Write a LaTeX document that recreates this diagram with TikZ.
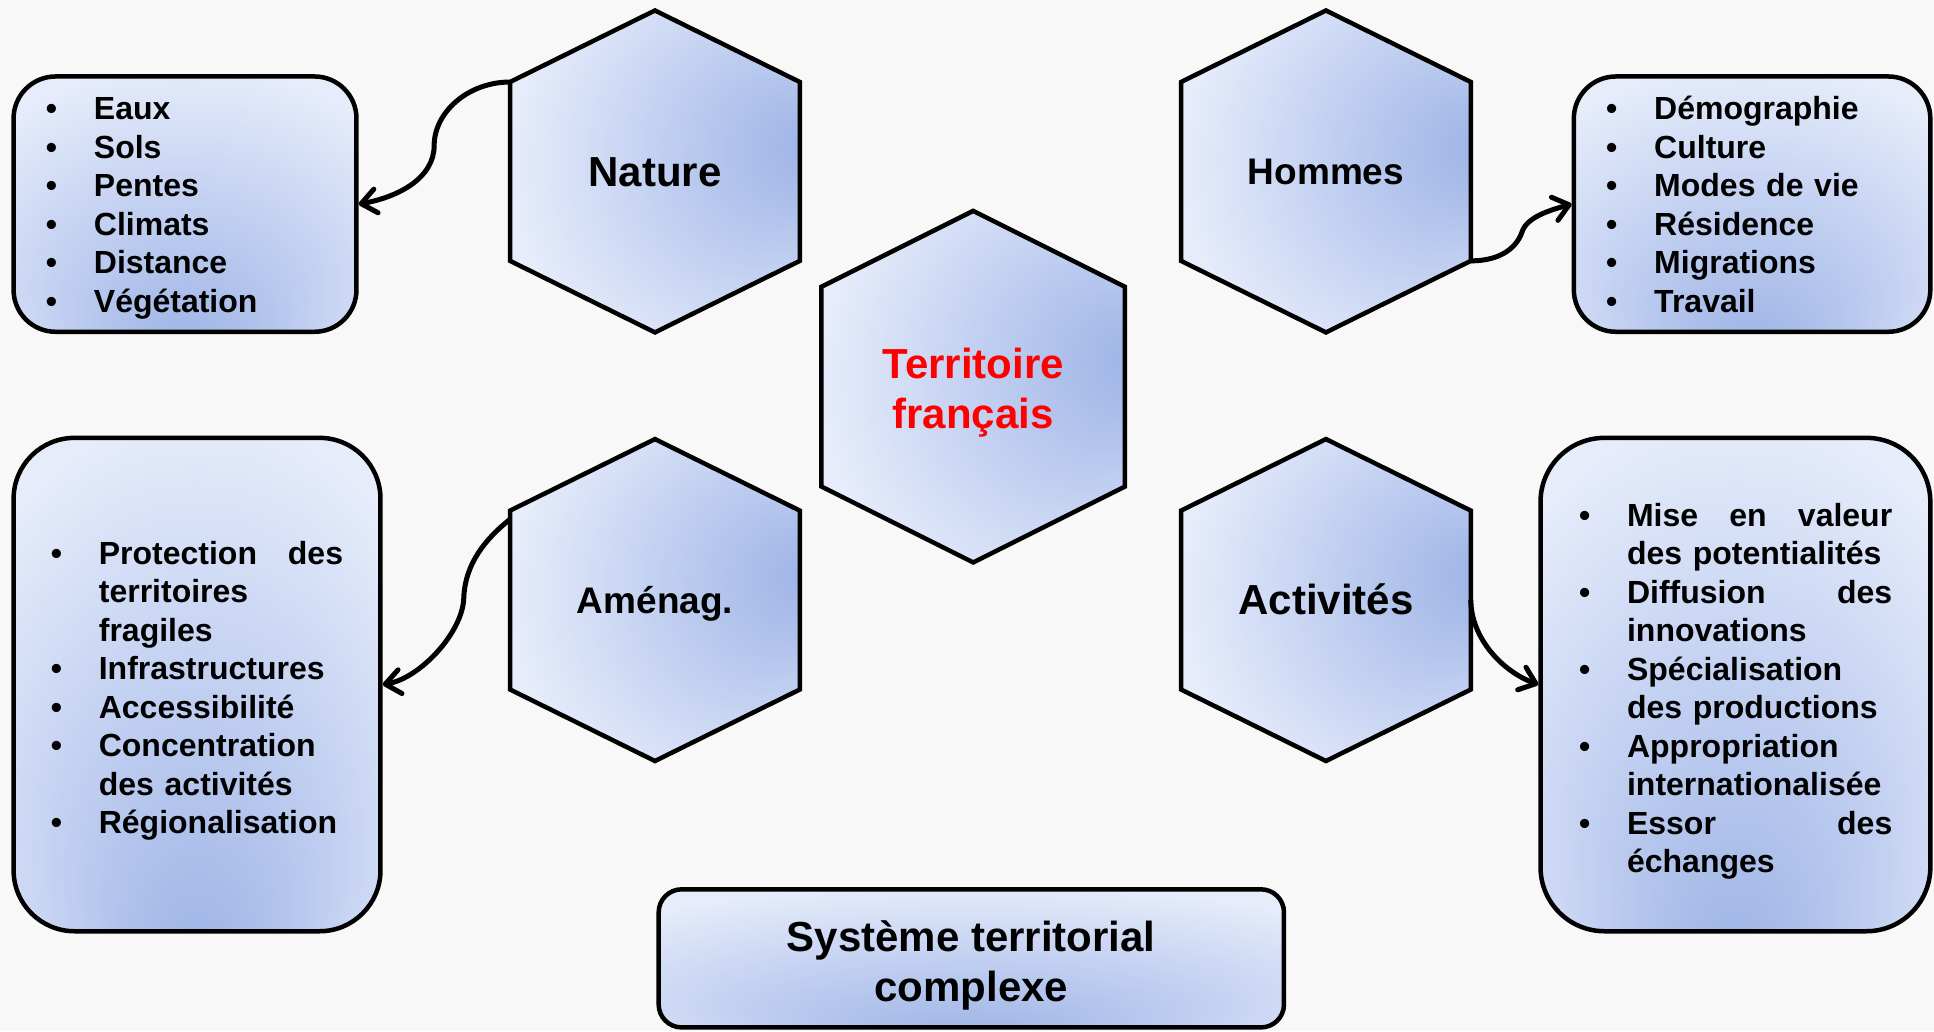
\documentclass[tikz,border=0pt]{standalone}
\usepackage{fontspec}
\setmainfont{Liberation Sans}
\usetikzlibrary{arrows.meta}

\definecolor{pagebg}{HTML}{F8F8F8}
\definecolor{blueLight}{HTML}{E6ECFA}
\definecolor{blueMid}{HTML}{C2D0F1}
\definecolor{blueDark}{HTML}{9CB3E6}
\definecolor{titleRed}{HTML}{FF0000}

% light-to-dark fills: hexagons darken towards the right, boxes towards the bottom centre
\pgfdeclareradialshading{hexshade}{\pgfpoint{28bp}{4bp}}{%
  color(0bp)=(blueDark); color(18bp)=(blueMid); color(34bp)=(blueLight); color(50bp)=(blueLight)}
\pgfdeclareradialshading{boxshade}{\pgfpoint{0bp}{-30bp}}{%
  color(0bp)=(blueDark); color(19bp)=(blueMid); color(36bp)=(blueLight); color(50bp)=(blueLight)}

% bullet hanging to the left of an item
\newcommand\bul{\strut\llap{\makebox[48pt][l]{•}}}

\tikzset{
  outline/.style={draw=black, line width=4.5pt},
  hexa/.style={outline, shade, shading=hexshade, line join=miter},
  infobox/.style={outline, shade, shading=boxshade, rounded corners=#1, inner sep=0pt},
  link/.style={line width=5pt, -{Straight Barb[length=15pt,width=24pt,round]}},
  bigtext/.style={font=\fontsize{42}{50}\selectfont\bfseries, inner sep=0pt},
  midtext/.style={font=\fontsize{37}{44}\selectfont\bfseries, inner sep=0pt},
  listtext/.style={font=\fontsize{32}{38.5}\selectfont\bfseries, align=left, inner sep=0pt, anchor=north west},
}

\begin{document}
\begin{tikzpicture}[x=1.23342pt, y=-1.23342pt]
  % page
  \path[fill=pagebg] (0,0) rectangle (1568,836);
  \useasboundingbox (0,0) rectangle (1568,836);

  % hexagons
  \path[hexa] (413.5,66.5) -- (531,8.5) -- (648.5,66.5) -- (648.5,211.5) -- (531,269.5) -- (413.5,211.5) -- cycle;
  \path[hexa] (957.5,66.5) -- (1075,8.5) -- (1192.5,66.5) -- (1192.5,211.5) -- (1075,269.5) -- (957.5,211.5) -- cycle;
  \path[hexa] (666,232.5) -- (789,171) -- (912,232.5) -- (912,394.5) -- (789,456) -- (666,394.5) -- cycle;
  \path[hexa] (413.5,414) -- (531,356) -- (648.5,414) -- (648.5,559) -- (531,617) -- (413.5,559) -- cycle;
  \path[hexa] (957.5,414) -- (1075,356) -- (1192.5,414) -- (1192.5,559) -- (1075,617) -- (957.5,559) -- cycle;

  % hexagon labels
  \node[bigtext, anchor=base] (natlbl) at (531,151.4) {Nature};
  \node[midtext, anchor=base] (homlbl) at (1075,149.5) {Hommes};
  \node[midtext, anchor=base] (amelbl) at (531,497.5) {Aménag.};
  \node[bigtext, anchor=base] (actlbl) at (1075,498.6) {Activités};
  \node[bigtext, align=center, anchor=north, text=titleRed] (terrlbl) at (789,278.2) {\strut Territoire\\français};

  % connector start points on the hexagons
  \coordinate (natV) at (413.5,66.5);
  \coordinate (homV) at (1192.5,211.5);
  \coordinate (ameP) at (413.5,421);
  \coordinate (actP) at (1192.5,486.5);

  % detail boxes
  \node[infobox=42pt, minimum width=342.9pt, minimum height=255.3pt] (natbox) at (150,165.5) {};
  \node[infobox=42pt, minimum width=356.5pt, minimum height=255.3pt] (hombox) at (1420.5,165.5) {};
  \node[infobox=61pt, minimum width=366.9pt, minimum height=493.4pt] (amebox) at (159.75,555) {};
  \node[infobox=64pt, minimum width=389.8pt, minimum height=493.4pt] (actbox) at (1407,555) {};
  \node[infobox=23pt, minimum width=625.3pt, minimum height=138.1pt] (sysbox) at (787.5,777) {};

  % box contents
  \node[listtext, text width=200pt] (natlist) at (76,75.15)
    {\bul Eaux\\\bul Sols\\\bul Pentes\\\bul Climats\\\bul Distance\\\bul Végétation};
  \node[listtext, text width=230pt] (homlist) at (1341,75.15)
    {\bul Démographie\\\bul Culture\\\bul Modes de vie\\\bul Résidence\\\bul Migrations\\\bul Travail};
  \node[listtext, text width=244.2pt] (amelist) at (80,435.45)
    {\bul Protection\hfill des\\territoires\\fragiles\\\bul Infrastructures\\\bul Accessibilité\\%
     \bul Concentration\\des activités\\\bul Régionalisation};
  \node[listtext, text width=265.2pt] (actlist) at (1319,404.65)
    {\bul Mise\hfill en\hfill valeur\\des potentialités\\\bul Diffusion\hfill des\\innovations\\%
     \bul Spécialisation\\des productions\\\bul Appropriation\\internationalisée\\%
     \bul Essor\hfill des\\échanges};
  \node[bigtext, align=center, anchor=north] (systxt) at (787.5,743.2) {\strut Système territorial\\complexe};

  % connectors (S-curves from the hexagons into the boxes)
  \draw[link] (natV) .. controls +(-34,0) and +(0,-27) .. ++(-61.5,51.5)
                     .. controls +(0,26) and +(33,-6) .. (natbox.east);
  \draw[link] (homV) .. controls +(25,0) and +(-4,12) .. ++(41.5,-23.5)
                     .. controls +(4,-12) and +(-18,5) .. (hombox.west);
  \draw[link] (ameP) .. controls +(-20,16) and +(1,-28) .. ++(-37.5,64)
                     .. controls +(-1,28) and +(30,-5) .. (amebox.east);
  \draw[link] (actP) .. controls +(0,30) and +(-30,-11) .. (actbox.west);
\end{tikzpicture}
\end{document}
